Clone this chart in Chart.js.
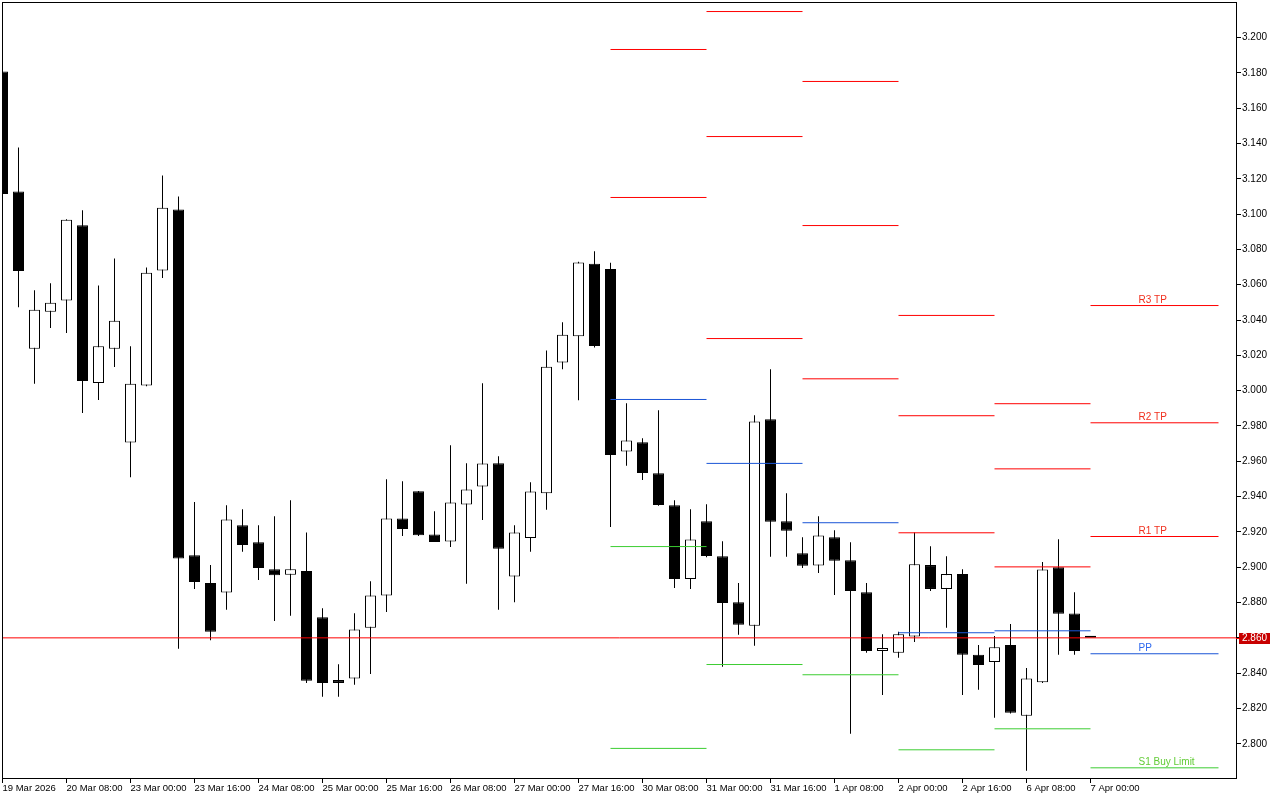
<!DOCTYPE html>
<html>
<head>
<meta charset="utf-8">
<script src="https://cdn.jsdelivr.net/npm/chart.js@4.4.1/dist/chart.umd.min.js"></script>
<style>
html,body{margin:0;padding:0;background:#fff;}
#wrap{width:1280px;height:800px;position:relative;background:#fff;}
canvas{display:block;}
</style>
</head>
<body>
<div id="wrap"><canvas id="c" width="1280" height="800"></canvas></div>
<script>
// ---- H4 candles (index 0..68) ----
const opens  = [3.1807,3.1128,3.0237,3.0447,3.0510,3.0936,3.0043,3.0237,2.9706,3.0029,
                3.0680,3.1026,2.9068,2.8910,2.8857,2.9238,2.9142,2.8989,2.8957,2.8978,
                2.8717,2.8361,2.8370,2.8657,2.8840,2.9276,2.9430,2.9185,2.9146,2.9355,
                2.9457,2.9589,2.8948,2.9166,2.9419,3.0159,3.0308,3.0719,3.0689,2.9655,
                2.9708,2.9532,2.9351,2.8934,2.9261,2.9062,2.8802,2.8668,2.9838,2.9261,
                2.9079,2.9010,2.9170,2.9040,2.8859,2.8526,2.8515,2.8608,2.9012,2.8877,
                2.8961,2.8504,2.8464,2.8559,2.8159,2.8348,2.9000,2.8738,2.8600];
const highs  = [3.1830,3.1377,3.0568,3.0608,3.0970,3.1021,3.0596,3.0749,3.0251,3.0697,
                3.1219,3.1100,2.9370,2.9012,2.9351,2.9329,2.9238,2.9289,2.9379,2.9197,
                2.8768,2.8451,2.8740,2.8921,2.9498,2.9487,2.9432,2.9317,2.9691,2.9589,
                3.0042,2.9629,2.9238,2.9481,3.0228,3.0387,3.0730,3.0790,3.0725,2.9928,
                2.9730,2.9889,2.9379,2.9329,2.9357,2.9147,2.8910,2.9861,3.0121,2.9419,
                2.9170,2.9289,2.9210,2.9142,2.8910,2.8621,2.8634,2.9197,2.9119,2.9062,
                2.8989,2.8559,2.8610,2.8678,2.8429,2.9029,2.9159,2.8859,2.8600];
const lows   = [3.1100,3.0473,3.0039,3.0355,3.0326,2.9873,2.9947,3.0134,2.9510,3.0025,
                3.0638,2.8538,2.8877,2.8587,2.8759,2.9087,2.8928,2.8696,2.8725,2.8345,
                2.8266,2.8266,2.8334,2.8396,2.8747,2.9177,2.9177,2.9143,2.9115,2.8906,
                2.9268,2.8759,2.8802,2.9087,2.9325,3.0121,2.9945,3.0245,2.9228,2.9574,
                2.9494,2.9348,2.8883,2.8876,2.9057,2.8436,2.8617,2.8555,2.9059,2.9059,
                2.8996,2.8968,2.8843,2.8057,2.8515,2.8277,2.8487,2.8577,2.8866,2.8657,
                2.8277,2.8306,2.8147,2.8172,2.7847,2.8345,2.8504,2.8504,2.8600];
const closes = [3.1113,3.0677,3.0458,3.0498,3.0968,3.0055,3.0251,3.0396,3.0039,3.0668,
                3.1036,2.9049,2.8917,2.8634,2.9270,2.9126,2.8996,2.8955,2.8989,2.8357,
                2.8345,2.8345,2.8648,2.8840,2.9276,2.9217,2.9181,2.9143,2.9366,2.9440,
                2.9587,2.9104,2.9197,2.9429,3.0136,3.0317,3.0726,3.0253,2.9636,2.9717,
                2.9534,2.9353,2.8934,2.9157,2.9064,2.8798,2.8674,2.9825,2.9257,2.9206,
                2.9008,2.9180,2.9036,2.8866,2.8526,2.8542,2.8621,2.9017,2.8877,2.8961,
                2.8504,2.8447,2.8547,2.8176,2.8370,2.8987,2.8736,2.8526,2.8600];

// ---- axis ticks ----
const xTickIndex  = [0,4,8,12,16,20,24,28,32,36,40,44,48,52,56,60,64,68];
const xTickLabels = ['19 Mar 2026','20 Mar 08:00','23 Mar 00:00','23 Mar 16:00','24 Mar 08:00',
                     '25 Mar 00:00','25 Mar 16:00','26 Mar 08:00','27 Mar 00:00','27 Mar 16:00',
                     '30 Mar 08:00','31 Mar 00:00','31 Mar 16:00','1 Apr 08:00','2 Apr 00:00',
                     '2 Apr 16:00','6 Apr 08:00','7 Apr 00:00'];
const yTickValues = [2.80,2.82,2.84,2.86,2.88,2.90,2.92,2.94,2.96,2.98,3.00,
                     3.02,3.04,3.06,3.08,3.10,3.12,3.14,3.16,3.18,3.20];

// ---- daily pivot levels (one entry per day block) ----
const levelStart = [38, 44, 50, 56, 62, 68];
const levelEnd   = [44, 50, 56, 62, 68, 76];
const levelR3 = [null,   3.2147, 3.1751, 3.0426, 2.9926, 3.0482];
const levelR2 = [3.1932, 3.1439, 3.0935, 2.9858, 2.9557, 2.9818];
const levelR1 = [3.1094, 3.0295, 3.0067, 2.9195, 2.9002, 2.9174];
const levelPP = [2.9950, 2.9588, 2.9252, 2.8629, 2.8640, 2.8510];
const levelS1 = [2.9117, 2.8449, 2.8391, 2.7966, 2.8085, 2.7864];
const levelS2 = [2.7974, null,   null,   null,   null,   null  ];
const levelNames = ['R3 TP', 'R2 TP', 'R1 TP', 'PP', 'S1 Buy Limit'];
const labelAnchor = 71;
const currentPrice = 2.860;

// ---- axis bounds ----
const xMin = -0.03125, xMax = 77.15625;
const yMin = 2.78007, yMax = 3.22010;

const RED = '#ff0000', BLUE = '#1a55d6', GREEN = '#3ccd32';

function segments(values) {
  const pts = [];
  values.forEach((v, i) => {
    if (v === null) return;
    pts.push({x: levelStart[i], y: v}, {x: levelEnd[i], y: v}, {x: levelEnd[i], y: null});
  });
  return pts;
}
function levelDataset(values, color) {
  return {type: 'line', data: segments(values), borderColor: color, borderWidth: 1,
          pointRadius: 0, pointHoverRadius: 0, fill: false, tension: 0, spanGaps: false, order: 0};
}

const FONT = 'Liberation Sans';

const overlay = {
  id: 'overlay',
  afterDatasetsDraw(chart) {
    const {ctx, scales: {x, y}} = chart;
    const last = levelStart.length - 1;
    const rows = [levelR3[last], levelR2[last], levelR1[last], levelPP[last], levelS1[last]];
    const colors = ['#f0301e', '#f0301e', '#f0301e', '#2a66ee', '#62cc36'];
    ctx.save();
    ctx.font = '10px "' + FONT + '"';
    ctx.textAlign = 'left';
    ctx.textBaseline = 'alphabetic';
    const lx = Math.round(x.getPixelForValue(labelAnchor)) - 0.5;
    rows.forEach((v, i) => {
      ctx.fillStyle = colors[i];
      ctx.fillText(levelNames[i], lx, Math.round(y.getPixelForValue(v)) - 3);
    });
    ctx.restore();
  },
  afterDraw(chart) {
    const {ctx, chartArea: a, scales: {y}} = chart;
    ctx.save();
    // frame
    ctx.strokeStyle = '#000';
    ctx.lineWidth = 1;
    ctx.strokeRect(a.left + 0.5, a.top + 0.5, a.right - a.left - 1, a.bottom - a.top - 1);
    // current price label
    const py = Math.round(y.getPixelForValue(currentPrice));
    ctx.fillStyle = RED;
    ctx.fillRect(a.right - 1, py, 3, 1);
    ctx.fillStyle = '#c80000';
    ctx.fillRect(a.right + 2, py - 5, 31, 11);
    ctx.fillStyle = '#fff';
    ctx.font = '10px "' + FONT + '"';
    ctx.textAlign = 'left';
    ctx.textBaseline = 'middle';
    ctx.fillText(currentPrice.toFixed(3), a.right + 5, py + 0.5);
    ctx.restore();
  }
};

const idx = opens.map((_, i) => i);

new Chart(document.getElementById('c'), {
  type: 'bar',
  data: {
    datasets: [
      {type: 'line', data: [{x: xMin, y: currentPrice}, {x: xMax, y: currentPrice}],
       borderColor: RED, borderWidth: 1, pointRadius: 0, fill: false, order: 0},
      levelDataset(levelR3, RED),
      levelDataset(levelR2, RED),
      levelDataset(levelR1, RED),
      levelDataset(levelPP, BLUE),
      levelDataset(levelS1, GREEN),
      levelDataset(levelS2, GREEN),
      {
        type: 'bar',
        data: idx.map(i => ({x: i, y: [opens[i], closes[i]]})),
        barThickness: 11,
        grouped: false,
        inflateAmount: 0,
        minBarLength: 2,
        borderWidth: 1,
        borderSkipped: false,
        borderColor: '#000',
        backgroundColor: ctx => (closes[ctx.dataIndex] > opens[ctx.dataIndex] ? '#ffffff' : '#000000'),
        order: 1
      },
      {
        type: 'bar',
        data: idx.map(i => ({x: i, y: [lows[i], highs[i]]})),
        barThickness: 1,
        grouped: false,
        inflateAmount: 0,
        borderWidth: 0,
        backgroundColor: '#000',
        order: 2
      }
    ]
  },
  options: {
    responsive: false,
    devicePixelRatio: 1,
    animation: false,
    events: [],
    layout: {padding: {left: 2, top: 2, right: 0, bottom: 0}},
    plugins: {legend: {display: false}, tooltip: {enabled: false}},
    scales: {
      x: {
        type: 'linear',
        offset: false,
        min: xMin, max: xMax,
        afterBuildTicks: axis => { axis.ticks = xTickIndex.map(v => ({value: v})); },
        afterFit: s => { s.height = 21; s.paddingLeft = 0; s.paddingRight = 0; s.paddingTop = 0; s.paddingBottom = 0; },
        border: {display: false},
        grid: {offset: false, drawOnChartArea: false, drawTicks: true, tickLength: 4, color: '#000', lineWidth: 1},
        ticks: {
          autoSkip: false, maxRotation: 0, minRotation: 0, align: 'start', padding: 0,
          color: '#000', font: {family: FONT, size: 9.5},
          callback: (v, i) => xTickLabels[i]
        }
      },
      y: {
        type: 'linear',
        position: 'right',
        min: yMin, max: yMax,
        afterBuildTicks: axis => { axis.ticks = yTickValues.map(v => ({value: v})); },
        afterFit: s => { s.width = 43; s.paddingLeft = 0; s.paddingRight = 0; s.paddingTop = 0; s.paddingBottom = 0; },
        border: {display: false},
        grid: {drawOnChartArea: false, drawTicks: true, tickLength: 4, color: '#000', lineWidth: 1},
        ticks: {
          padding: 1, color: '#000', font: {family: FONT, size: 10},
          callback: v => Number(v).toFixed(3)
        }
      }
    }
  },
  plugins: [overlay]
});
</script>
</body>
</html>
